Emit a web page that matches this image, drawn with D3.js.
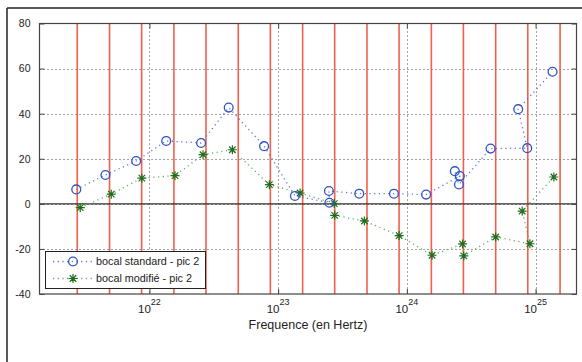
<!DOCTYPE html>
<html>
<head>
<meta charset="utf-8">
<script src="https://cdn.jsdelivr.net/npm/d3@7"></script>
<style>
  html, body { margin: 0; padding: 0; background: #fff; }
  svg { display: block; font-family: "Liberation Sans", Arial, sans-serif; }
</style>
</head>
<body>
<svg id="chart" width="582" height="362"></svg>
<script>
// ---- data (frequency in Hz, value) ----
const standardFreq = [2.70e21, 4.55e21, 7.89e21, 1.35e22, 2.52e22, 4.13e22, 7.78e22, 1.35e23,
  2.50e23, 2.48e23, 4.27e23, 7.94e23, 1.41e24, 2.58e24, 2.36e24, 2.54e24, 4.47e24, 8.61e24, 7.33e24, 1.355e25];
const standardVal = [6.4, 12.8, 19.0, 27.9, 27.0, 42.7, 25.6, 3.5,
  0.5, 5.7, 4.5, 4.5, 4.1, 12.3, 14.5, 8.6, 24.5, 24.7, 42.0, 58.6];

const modifiedFreq = [2.90e21, 5.05e21, 8.73e21, 1.58e22, 2.61e22, 4.41e22, 8.55e22, 1.48e23,
  2.73e23, 2.75e23, 4.68e23, 8.71e23, 1.57e24, 2.71e24, 2.77e24, 4.90e24, 9.04e24, 7.87e24, 1.387e25];
const modifiedVal = [-1.7, 4.3, 11.4, 12.5, 21.8, 24.0, 8.5, 4.8,
  0.1, -5.1, -7.6, -14.1, -22.8, -17.8, -23.1, -14.7, -17.7, -3.2, 11.9];

const redLineFreq = [2.75e21, 4.9e21, 8.7e21, 1.55e22, 2.75e22, 4.9e22, 8.7e22, 1.55e23,
  2.75e23, 4.9e23, 8.7e23, 1.55e24, 2.75e24, 4.9e24, 8.7e24, 1.55e25];

const xDomain = [Math.pow(10, 21.146), Math.pow(10, 25.318)];
const yDomain = [-40, 80];
const yTicks = [-40, -20, 0, 20, 40, 60, 80];
const yTickLabels = ["-40", "-20", "0", "20", "40", "60", "80"];
const xTickExps = [22, 23, 24, 25];
const seriesNames = ["bocal standard - pic 2", "bocal modifié - pic 2"];
const xLabel = "Frequence (en Hertz)";

// ---- layout ----
const svg = d3.select("#chart");
const L = 39.5, R = 576.5, T = 23.5, B = 294;
const x = d3.scaleLog().domain(xDomain).range([L, R]);
const y = d3.scaleLinear().domain(yDomain).range([B, T]);

const blue = "#2b52c6", blueLine = "#5577dd";
const green = "#1d6e1d", greenLine = "#63a863";

// outer frame
svg.append("line").attr("x1", 7).attr("x2", 582).attr("y1", 8).attr("y2", 8).attr("stroke", "#222").attr("stroke-width", 1.5);
svg.append("line").attr("x1", 7).attr("x2", 7).attr("y1", 8).attr("y2", 362).attr("stroke", "#222").attr("stroke-width", 1.5);

// plot background
svg.append("rect").attr("x", L).attr("y", T).attr("width", R - L).attr("height", B - T).attr("fill", "#fff");

// grid
const grid = svg.append("g").attr("stroke", "#444").attr("stroke-width", 1).attr("stroke-dasharray", "1,3");
grid.selectAll(".gy").data(yTicks.filter(d => d !== -40 && d !== 80)).enter().append("line")
  .attr("x1", L).attr("x2", R).attr("y1", d => Math.round(y(d)) + 0.5).attr("y2", d => Math.round(y(d)) + 0.5);
grid.selectAll(".gx").data(xTickExps).enter().append("line")
  .attr("x1", d => Math.round(x(Math.pow(10, d))) + 0.5).attr("x2", d => Math.round(x(Math.pow(10, d))) + 0.5)
  .attr("y1", T).attr("y2", B);

// red vertical lines
svg.append("g").selectAll("line").data(redLineFreq).enter().append("line")
  .attr("x1", d => x(d)).attr("x2", d => x(d)).attr("y1", T).attr("y2", B)
  .attr("stroke", "#f0604a").attr("stroke-width", 1.6);

// zero line
svg.append("line").attr("x1", L).attr("x2", R).attr("y1", y(0)).attr("y2", y(0))
  .attr("stroke", "#333").attr("stroke-width", 1.2);

// axes box
svg.append("rect").attr("x", L).attr("y", T).attr("width", R - L).attr("height", B - T)
  .attr("fill", "none").attr("stroke", "#444").attr("stroke-width", 1.2);

// y axis (ticks inward) using d3 axis
const yAxis = d3.axisLeft(y).tickValues(yTicks).tickSize(-5).tickPadding(9)
  .tickFormat(d => yTickLabels[yTicks.indexOf(d)]);
const gy = svg.append("g").attr("transform", `translate(${L},0)`).call(yAxis);
gy.select(".domain").remove();
gy.selectAll(".tick line").attr("stroke", "#444");
gy.selectAll(".tick text").attr("font-size", "10.5px").attr("fill", "#222").attr("font-family", "Liberation Sans, Arial, sans-serif");
const gyr = svg.append("g").attr("transform", `translate(${R},0)`).call(d3.axisRight(y).tickValues(yTicks).tickSize(-5).tickFormat(""));
gyr.select(".domain").remove();
gyr.selectAll(".tick line").attr("stroke", "#444");

// x axis ticks (inward, bottom and top)
const xt = xTickExps.map(e => Math.pow(10, e));
const gxb = svg.append("g").attr("transform", `translate(0,${B})`).call(d3.axisBottom(x).tickValues(xt).tickSize(-5).tickFormat(""));
gxb.select(".domain").remove();
gxb.selectAll(".tick line").attr("stroke", "#444");
const gxt = svg.append("g").attr("transform", `translate(0,${T})`).call(d3.axisTop(x).tickValues(xt).tickSize(-5).tickFormat(""));
gxt.select(".domain").remove();
gxt.selectAll(".tick line").attr("stroke", "#444");

// x tick labels 10^n
const xl = svg.append("g").attr("fill", "#222");
xTickExps.forEach(e => {
  const t = xl.append("text").attr("x", x(Math.pow(10, e))).attr("y", 313).attr("text-anchor", "middle").attr("font-size", "11.5px");
  t.append("tspan").text("10");
  t.append("tspan").attr("dy", -8).attr("font-size", "9px").text(String(e));
});

// x label
svg.append("text").attr("x", (L + R) / 2).attr("y", 329).attr("text-anchor", "middle")
  .attr("font-size", "12.5px").attr("fill", "#222").text(xLabel);

// series lines
const line = d3.line().x(d => x(d[0])).y(d => y(d[1]));
const sData = standardFreq.map((f, i) => [f, standardVal[i]]);
const mData = modifiedFreq.map((f, i) => [f, modifiedVal[i]]);

svg.append("path").datum(mData).attr("d", line).attr("fill", "none")
  .attr("stroke", greenLine).attr("stroke-width", 1.3).attr("stroke-dasharray", "1.2,3.5");
svg.append("path").datum(sData).attr("d", line).attr("fill", "none")
  .attr("stroke", blueLine).attr("stroke-width", 1.3).attr("stroke-dasharray", "1.2,3.5");

function star(g, cx, cy, r) {
  const a = r * 0.72;
  const p = `M${cx - r},${cy}L${cx + r},${cy}M${cx},${cy - r}L${cx},${cy + r}` +
            `M${cx - a},${cy - a}L${cx + a},${cy + a}M${cx - a},${cy + a}L${cx + a},${cy - a}`;
  g.append("path").attr("d", p).attr("stroke", green).attr("stroke-width", 1.2).attr("fill", "none");
}

const gm = svg.append("g");
mData.forEach(d => star(gm, x(d[0]), y(d[1]), 4.5));

svg.append("g").selectAll("circle").data(sData).enter().append("circle")
  .attr("cx", d => x(d[0])).attr("cy", d => y(d[1])).attr("r", 4.4)
  .attr("fill", "none").attr("stroke", blue).attr("stroke-width", 1.3);

// legend
const lg = svg.append("g");
lg.append("rect").attr("x", 45.5).attr("y", 251.5).attr("width", 160).attr("height", 37)
  .attr("fill", "#fff").attr("stroke", "#222").attr("stroke-width", 1);
const rows = [261.5, 278.5];
lg.append("line").attr("x1", 53).attr("x2", 93).attr("y1", rows[0]).attr("y2", rows[0])
  .attr("stroke", blueLine).attr("stroke-width", 1.3).attr("stroke-dasharray", "1.2,3.5");
lg.append("circle").attr("cx", 73).attr("cy", rows[0]).attr("r", 4.4).attr("fill", "none").attr("stroke", blue).attr("stroke-width", 1.3);
lg.append("line").attr("x1", 53).attr("x2", 93).attr("y1", rows[1]).attr("y2", rows[1])
  .attr("stroke", greenLine).attr("stroke-width", 1.3).attr("stroke-dasharray", "1.2,3.5");
star(lg, 73, rows[1], 4.5);
seriesNames.forEach((n, i) => {
  lg.append("text").attr("x", 96).attr("y", rows[i] + 3.8).attr("font-size", "10.8px").attr("fill", "#222").text(n);
});
</script>
</body>
</html>
